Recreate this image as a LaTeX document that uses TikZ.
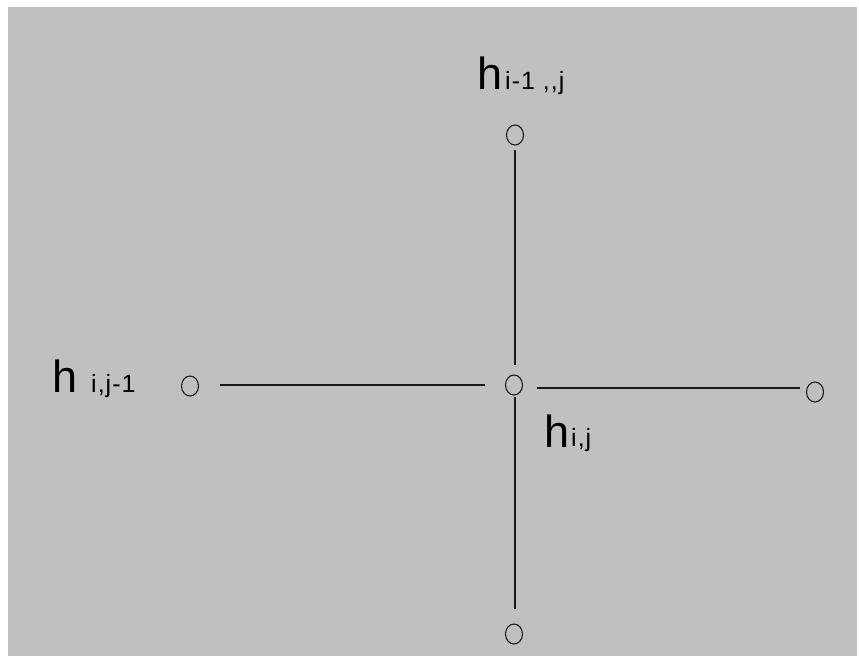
\documentclass[tikz,border=0pt]{standalone}
\usepackage{fontspec}
\setmainfont{Liberation Sans}
\usetikzlibrary{shapes.geometric}
\definecolor{bggray}{HTML}{C0C0C0}
\begin{document}
\begin{tikzpicture}[x=1pt,y=-1pt,
 vtx/.style={draw=black!90, line width=1.1pt, ellipse, minimum width=17pt, minimum height=20pt, inner sep=0pt},
 edge/.style={draw=black!90, line width=1.2pt},
 hlab/.style={anchor=base west, inner sep=0pt, font=\fontsize{45}{45}\selectfont},
 sublab/.style={anchor=base west, inner sep=0pt, font=\fontsize{25}{25}\selectfont\addfontfeature{LetterSpace=4}}]
\useasboundingbox (0,0) rectangle (859,657);
\fill[white] (0,0) rectangle (859,657);
\fill[bggray] (8,7) rectangle (857,656);
% vertices
\node[vtx] (top) at (515,135) {};
\node[vtx] (ctr) at (514,385) {};
\node[vtx] (lft) at (190,386) {};
\node[vtx] (rgt) at (815,392) {};
\node[vtx] (bot) at (514,634) {};
% connector ends
\coordinate (ctrN) at (515,365);
\coordinate (ctrS) at (515,397);
\coordinate (ctrW) at (485,385);
\coordinate (ctrE) at (537,388);
\coordinate (topS) at (515,150);
\coordinate (botN) at (515,609);
\coordinate (lftE) at (220,385);
\coordinate (rgtW) at (800,388);
\draw[edge] (topS) -- (ctrN);
\draw[edge] (ctrS) -- (botN);
\draw[edge] (lftE) -- (ctrW);
\draw[edge] (ctrE) -- (rgtW);
% labels
\node[hlab] (hT) at (477,89) {h};
\node[sublab] (sT) at (505,89) {i-1 ,{},j};
\node[hlab] (hL) at (52,392) {h};
\node[sublab] (sL) at (91,392) {i,j-1};
\node[hlab] (hC) at (544,447) {h};
\node[sublab] (sC) at (571,446) {i,j};
\end{tikzpicture}
\end{document}
